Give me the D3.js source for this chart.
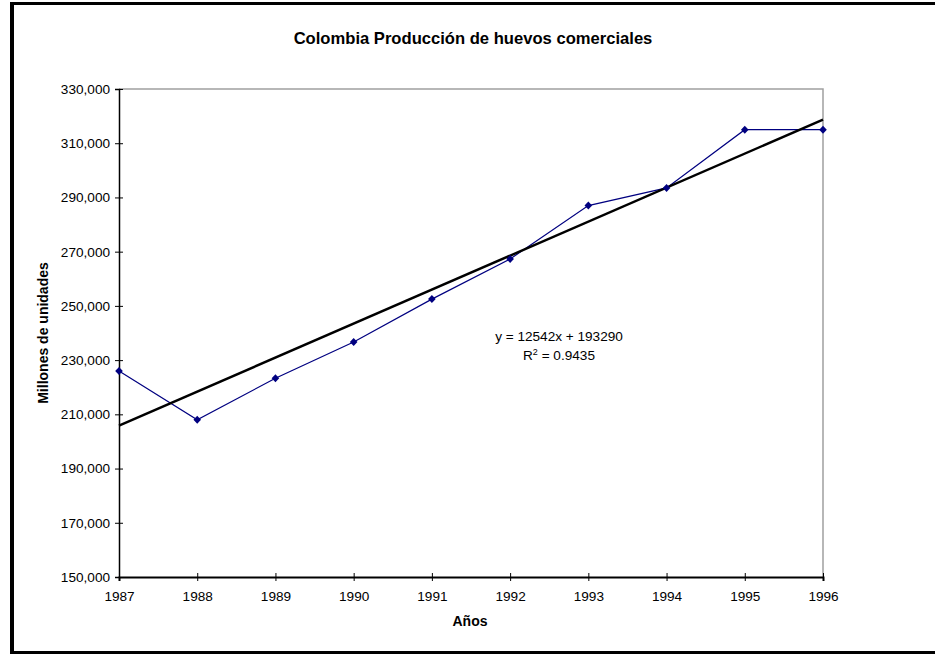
<!DOCTYPE html>
<html>
<head>
<meta charset="utf-8">
<script src="https://cdn.jsdelivr.net/npm/d3@7"></script>
<style>
  html, body { margin: 0; padding: 0; background: #fff; }
  svg { display: block; font-family: "Liberation Sans", Arial, sans-serif; }
</style>
</head>
<body>
<svg id="chart" width="935" height="654"></svg>
<script>
// ---- data ----
const years = [1987, 1988, 1989, 1990, 1991, 1992, 1993, 1994, 1995, 1996];
const production = [226000, 208000, 223300, 236700, 252500, 267300, 287000, 293500, 315000, 315000];
const yTicks = [150000, 170000, 190000, 210000, 230000, 250000, 270000, 290000, 310000, 330000];
const trendSlope = [12542];
const trendIntercept = [193290];
const trendR2 = [0.9435];
const titleText = ["Colombia Producción de huevos comerciales"];
const xLabelText = ["Años"];
const yLabelText = ["Millones de unidades"];

// ---- layout ----
const svg = d3.select("#chart");
const pLeft = 119, pRight = 823, pTop = 89, pBottom = 577;

const x = d3.scaleLinear().domain([years[0], years[years.length - 1]]).range([pLeft, pRight]);
const y = d3.scaleLinear().domain([150000, 330000]).range([pBottom, pTop]);

// outer frame
svg.append("line").attr("x1", 12).attr("x2", 12).attr("y1", 2).attr("y2", 654)
  .attr("stroke", "#000").attr("stroke-width", 4);
svg.append("line").attr("x1", 10).attr("x2", 935).attr("y1", 3.5).attr("y2", 3.5)
  .attr("stroke", "#000").attr("stroke-width", 3);
svg.append("line").attr("x1", 10).attr("x2", 935).attr("y1", 652.5).attr("y2", 652.5)
  .attr("stroke", "#000").attr("stroke-width", 3);

// plot area top/right border
svg.append("path")
  .attr("d", `M${pLeft},${pTop}H${pRight}V${pBottom}`)
  .attr("fill", "none").attr("stroke", "#a0a0a0").attr("stroke-width", 1.5);

// y axis
const yAxis = d3.axisLeft(y).tickValues(yTicks).tickFormat(d3.format(",")).tickSize(4).tickPadding(5);
const gy = svg.append("g").attr("transform", `translate(${pLeft},0)`).call(yAxis);
gy.select(".domain").attr("stroke", "#000").attr("stroke-width", 1.5);
gy.selectAll(".tick line").attr("x2", -4).attr("x1", 4).attr("stroke", "#000").attr("stroke-width", 1);
gy.selectAll(".tick text").attr("font-size", 13.6).attr("fill", "#000")
  .attr("font-family", "'Liberation Sans', Arial, sans-serif").attr("x", -9);

// x axis
const xAxis = d3.axisBottom(x).tickValues(years).tickFormat(d3.format("d")).tickSize(4).tickPadding(10);
const gx = svg.append("g").attr("transform", `translate(0,${pBottom})`).call(xAxis);
gx.select(".domain").attr("stroke", "#000").attr("stroke-width", 2);
gx.selectAll(".tick line").attr("y1", -4).attr("y2", 4).attr("stroke", "#000").attr("stroke-width", 1);
gx.selectAll(".tick text").attr("font-size", 13.6).attr("fill", "#000")
  .attr("font-family", "'Liberation Sans', Arial, sans-serif");

// data line
const pts = years.map((yr, i) => ({ yr, v: production[i] }));
svg.append("path").datum(pts)
  .attr("d", d3.line().x(d => x(d.yr)).y(d => y(d.v)))
  .attr("fill", "none").attr("stroke", "#000080").attr("stroke-width", 1.2);

// trend line (x index 1..n)
const trendPts = [1, years.length].map(k => ({ yr: years[k - 1], v: trendSlope[0] * k + trendIntercept[0] }));
svg.append("path").datum(trendPts)
  .attr("d", d3.line().x(d => x(d.yr)).y(d => y(d.v)))
  .attr("fill", "none").attr("stroke", "#000").attr("stroke-width", 2.5);

// markers
svg.append("g").selectAll("path").data(pts).join("path")
  .attr("transform", d => `translate(${x(d.yr)},${y(d.v)})`)
  .attr("d", "M0,-4L3.8,0L0,4L-3.8,0Z")
  .attr("fill", "#000080");

// title
svg.append("text").attr("x", 473).attr("y", 44).attr("text-anchor", "middle")
  .attr("font-size", 16.6).attr("font-weight", "bold").text(titleText[0]);

// axis titles
svg.append("text").attr("x", 470).attr("y", 626).attr("text-anchor", "middle")
  .attr("font-size", 14).attr("font-weight", "bold").text(xLabelText[0]);
svg.append("text").attr("transform", "translate(48,333) rotate(-90)").attr("text-anchor", "middle")
  .attr("font-size", 14).attr("font-weight", "bold").text(yLabelText[0]);

// equation
svg.append("text").attr("x", 559).attr("y", 341).attr("text-anchor", "middle")
  .attr("font-size", 13.6)
  .text(`y = ${trendSlope[0]}x + ${trendIntercept[0]}`);
const r2 = svg.append("text").attr("x", 559).attr("y", 360).attr("text-anchor", "middle")
  .attr("font-size", 13.6);
r2.append("tspan").text("R");
r2.append("tspan").attr("dy", -5).attr("font-size", 9).text("2");
r2.append("tspan").attr("dy", 5).text(` = ${trendR2[0]}`);
</script>
</body>
</html>
